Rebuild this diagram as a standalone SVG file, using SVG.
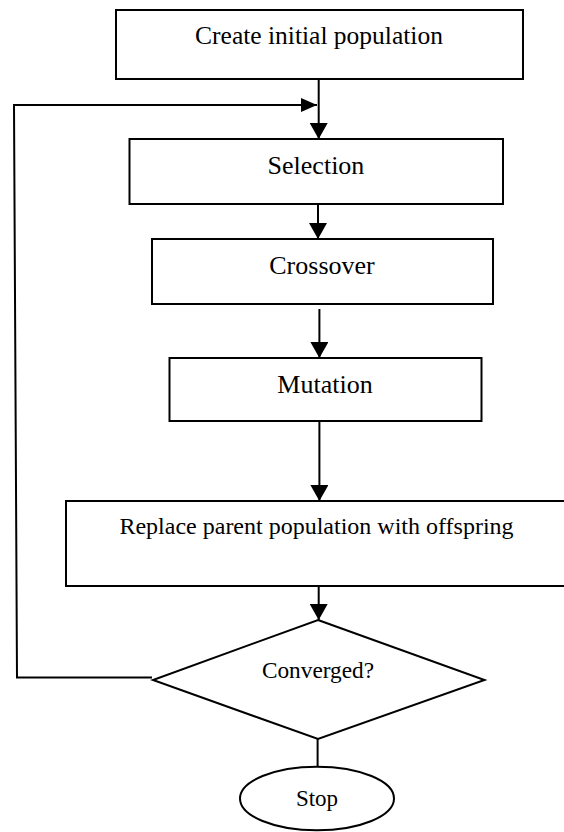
<svg xmlns="http://www.w3.org/2000/svg" width="564" height="832" viewBox="0 0 564 832">
<style>
.box{fill:#fff;stroke:#000;stroke-width:2}
.ln{fill:none;stroke:#000;stroke-width:2}
.t{font-family:"Liberation Serif","Times New Roman",serif;fill:#000;text-anchor:middle}
</style>
<defs>
<marker id="ah" markerUnits="userSpaceOnUse" markerWidth="18" markerHeight="18" viewBox="0 0 16 18" refX="16" refY="9" orient="auto">
<path d="M0,0 L16,9 L0,18 Z" fill="#000"/>
</marker>
<marker id="ahs" markerUnits="userSpaceOnUse" markerWidth="16" markerHeight="14" viewBox="0 0 16 14" refX="16" refY="7" orient="auto">
<path d="M0,0 L16,7 L0,14 Z" fill="#000"/>
</marker>
</defs>
<rect width="564" height="832" fill="#fff"/>
<g id="connectors">
<line class="ln" x1="318.7" y1="79" x2="318.7" y2="139" marker-end="url(#ah)"/>
<path class="ln" d="M152,677.5 L17,677.5 L14,105 L317,105" marker-end="url(#ahs)"/>
<line class="ln" x1="318" y1="204" x2="318" y2="239" marker-end="url(#ah)"/>
<line class="ln" x1="319.4" y1="309" x2="319.4" y2="358" marker-end="url(#ah)"/>
<line class="ln" x1="319.4" y1="421" x2="319.4" y2="501" marker-end="url(#ah)"/>
<line class="ln" x1="318.7" y1="586" x2="318.7" y2="620" marker-end="url(#ah)"/>
<line class="ln" x1="317.6" y1="739" x2="317.6" y2="767"/>
</g>
<g id="create">
<rect class="box" x="116" y="10" width="407" height="69"/>
<text class="t" x="319" y="43.5" font-size="25.5">Create initial population</text>
</g>
<g id="selection">
<rect class="box" x="129.5" y="139" width="373.5" height="65"/>
<text class="t" x="316" y="174" font-size="26">Selection</text>
</g>
<g id="crossover">
<rect class="box" x="152" y="239" width="341" height="65"/>
<text class="t" x="322" y="274" font-size="26">Crossover</text>
</g>
<g id="mutation">
<rect class="box" x="169.5" y="358" width="312" height="63"/>
<text class="t" x="325" y="393" font-size="26">Mutation</text>
</g>
<g id="replace">
<rect class="box" x="66" y="501" width="510" height="85"/>
<text class="t" x="316.5" y="534" font-size="24">Replace parent population with offspring</text>
</g>
<g id="converged">
<polygon class="box" points="318,620 484.5,680 318,739 153,680"/>
<text class="t" x="318" y="678" font-size="23.3">Converged?</text>
</g>
<g id="stop">
<ellipse class="box" cx="317" cy="798.5" rx="77" ry="31.8"/>
<text class="t" x="317" y="806" font-size="23">Stop</text>
</g>
</svg>
